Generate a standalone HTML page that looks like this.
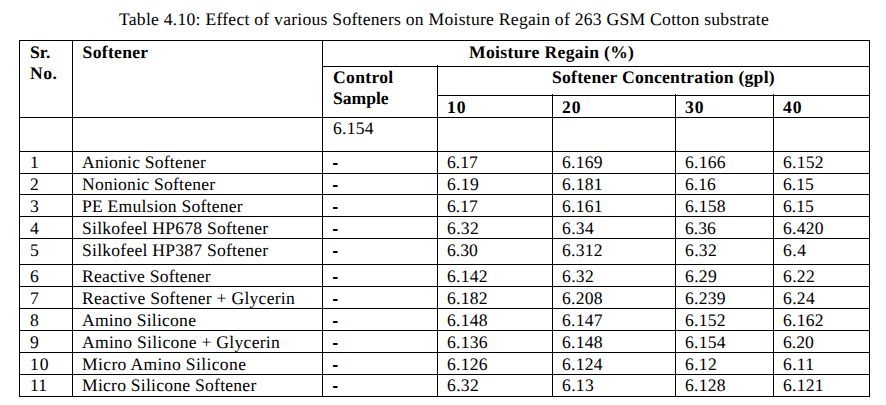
<!DOCTYPE html>
<html><head><meta charset="utf-8"><style>
html,body{margin:0;padding:0;background:#fff;}
#c{position:relative;width:886px;height:405px;overflow:hidden;background:#fff;}
.h{position:absolute;height:1px;background:#000;}
.v{position:absolute;width:1px;background:#000;}
.t{position:absolute;font-family:'Liberation Serif', serif;font-size:17.6px;line-height:20px;white-space:nowrap;color:#000;text-rendering:geometricPrecision;}
.b{font-weight:bold;}
.d{position:absolute;left:332px;width:6px;height:2px;background:linear-gradient(to right,#fff2c8 0,#fff2c8 1px,#500000 1px,#500000 2px,#000 2px,#000 5px,#3a78d0 5px,#3a78d0 6px);}
</style></head><body><div id="c">

<div class="h" style="top:40px;left:19px;width:851px"></div>
<div class="h" style="top:66px;left:322px;width:548px"></div>
<div class="h" style="top:95px;left:437px;width:433px"></div>
<div class="h" style="top:117px;left:19px;width:851px"></div>
<div class="h" style="top:151px;left:19px;width:851px"></div>
<div class="h" style="top:173px;left:19px;width:851px"></div>
<div class="h" style="top:194px;left:19px;width:851px"></div>
<div class="h" style="top:216px;left:19px;width:851px"></div>
<div class="h" style="top:238px;left:19px;width:851px"></div>
<div class="h" style="top:264px;left:19px;width:851px"></div>
<div class="h" style="top:286px;left:19px;width:851px"></div>
<div class="h" style="top:308px;left:19px;width:851px"></div>
<div class="h" style="top:330px;left:19px;width:851px"></div>
<div class="h" style="top:352px;left:19px;width:851px"></div>
<div class="h" style="top:374px;left:19px;width:851px"></div>
<div class="h" style="top:396px;left:19px;width:851px"></div>
<div class="v" style="left:19px;top:40px;height:357px"></div>
<div class="v" style="left:72px;top:40px;height:357px"></div>
<div class="v" style="left:322px;top:40px;height:357px"></div>
<div class="v" style="left:437px;top:65px;height:332px"></div>
<div class="v" style="left:552px;top:94px;height:303px"></div>
<div class="v" style="left:675px;top:94px;height:303px"></div>
<div class="v" style="left:773px;top:94px;height:303px"></div>
<div class="v" style="left:869px;top:40px;height:357px"></div>
<div class="t" style="left:119px;top:9px;letter-spacing:0.259px">Table 4.10: Effect of various Softeners on Moisture Regain of 263 GSM Cotton substrate</div>
<div class="t b" style="left:30px;top:42px">Sr.</div>
<div class="t b" style="left:30px;top:63px;letter-spacing:0.500px">No.</div>
<div class="t b" style="left:82.6px;top:42px;letter-spacing:0.286px">Softener</div>
<div class="t b" style="left:469px;top:42px;letter-spacing:0.333px">Moisture Regain (%)</div>
<div class="t b" style="left:333px;top:67px;letter-spacing:0.317px">Control</div>
<div class="t b" style="left:333px;top:88px;letter-spacing:-0.020px">Sample</div>
<div class="t b" style="left:552px;top:67px;letter-spacing:0.259px">Softener Concentration (gpl)</div>
<div class="t b" style="left:447px;top:97px;letter-spacing:1.000px">10</div>
<div class="t b" style="left:562px;top:97px;letter-spacing:1.000px">20</div>
<div class="t b" style="left:685px;top:97px;letter-spacing:1.000px">30</div>
<div class="t b" style="left:783px;top:97px;letter-spacing:1.000px">40</div>
<div class="t" style="left:333px;top:118px;letter-spacing:0.250px">6.154</div>
<div class="t" style="left:30px;top:152px">1</div>
<div class="t" style="left:82px;top:152px;letter-spacing:0.213px">Anionic Softener</div>
<div class="t" style="left:447px;top:152px">6.17</div>
<div class="t" style="left:562px;top:152px;letter-spacing:0.250px">6.169</div>
<div class="t" style="left:685px;top:152px;letter-spacing:0.250px">6.166</div>
<div class="t" style="left:783px;top:152px;letter-spacing:0.250px">6.152</div>
<div class="t" style="left:30px;top:174px">2</div>
<div class="t" style="left:82px;top:174px;letter-spacing:0.225px">Nonionic Softener</div>
<div class="t" style="left:447px;top:174px;letter-spacing:0.333px">6.19</div>
<div class="t" style="left:562px;top:174px;letter-spacing:0.250px">6.181</div>
<div class="t" style="left:685px;top:174px">6.16</div>
<div class="t" style="left:783px;top:174px">6.15</div>
<div class="t" style="left:30px;top:196px">3</div>
<div class="t" style="left:82px;top:196px;letter-spacing:0.226px">PE Emulsion Softener</div>
<div class="t" style="left:447px;top:196px">6.17</div>
<div class="t" style="left:562px;top:196px;letter-spacing:0.250px">6.161</div>
<div class="t" style="left:685px;top:196px;letter-spacing:0.250px">6.158</div>
<div class="t" style="left:783px;top:196px">6.15</div>
<div class="t" style="left:30px;top:218px">4</div>
<div class="t" style="left:82px;top:218px;letter-spacing:0.235px">Silkofeel HP678 Softener</div>
<div class="t" style="left:447px;top:218px;letter-spacing:0.333px">6.32</div>
<div class="t" style="left:562px;top:218px;letter-spacing:0.333px">6.34</div>
<div class="t" style="left:685px;top:218px">6.36</div>
<div class="t" style="left:783px;top:218px;letter-spacing:0.250px">6.420</div>
<div class="t" style="left:30px;top:240px">5</div>
<div class="t" style="left:82px;top:240px;letter-spacing:0.235px">Silkofeel HP387 Softener</div>
<div class="t" style="left:447px;top:240px">6.30</div>
<div class="t" style="left:562px;top:240px;letter-spacing:0.250px">6.312</div>
<div class="t" style="left:685px;top:240px;letter-spacing:0.333px">6.32</div>
<div class="t" style="left:783px;top:240px;letter-spacing:0.500px">6.4</div>
<div class="t" style="left:30px;top:266px">6</div>
<div class="t" style="left:82px;top:266px;letter-spacing:0.194px">Reactive Softener</div>
<div class="t" style="left:447px;top:266px;letter-spacing:0.250px">6.142</div>
<div class="t" style="left:562px;top:266px;letter-spacing:0.333px">6.32</div>
<div class="t" style="left:685px;top:266px;letter-spacing:0.333px">6.29</div>
<div class="t" style="left:783px;top:266px;letter-spacing:0.333px">6.22</div>
<div class="t" style="left:30px;top:288px">7</div>
<div class="t" style="left:82px;top:288px;letter-spacing:0.259px">Reactive Softener + Glycerin</div>
<div class="t" style="left:447px;top:288px;letter-spacing:0.250px">6.182</div>
<div class="t" style="left:562px;top:288px;letter-spacing:0.250px">6.208</div>
<div class="t" style="left:685px;top:288px;letter-spacing:0.250px">6.239</div>
<div class="t" style="left:783px;top:288px;letter-spacing:0.333px">6.24</div>
<div class="t" style="left:30px;top:310px">8</div>
<div class="t" style="left:82px;top:310px;letter-spacing:0.231px">Amino Silicone</div>
<div class="t" style="left:447px;top:310px;letter-spacing:0.250px">6.148</div>
<div class="t" style="left:562px;top:310px;letter-spacing:0.250px">6.147</div>
<div class="t" style="left:685px;top:310px;letter-spacing:0.250px">6.152</div>
<div class="t" style="left:783px;top:310px;letter-spacing:0.250px">6.162</div>
<div class="t" style="left:30px;top:332px">9</div>
<div class="t" style="left:82px;top:332px;letter-spacing:0.275px">Amino Silicone + Glycerin</div>
<div class="t" style="left:447px;top:332px;letter-spacing:0.250px">6.136</div>
<div class="t" style="left:562px;top:332px;letter-spacing:0.250px">6.148</div>
<div class="t" style="left:685px;top:332px;letter-spacing:0.250px">6.154</div>
<div class="t" style="left:783px;top:332px">6.20</div>
<div class="t" style="left:30px;top:354px;letter-spacing:1.000px">10</div>
<div class="t" style="left:82px;top:354px;letter-spacing:0.347px">Micro Amino Silicone</div>
<div class="t" style="left:447px;top:354px;letter-spacing:0.250px">6.126</div>
<div class="t" style="left:562px;top:354px;letter-spacing:0.250px">6.124</div>
<div class="t" style="left:685px;top:354px;letter-spacing:0.333px">6.12</div>
<div class="t" style="left:783px;top:354px;letter-spacing:0.333px">6.11</div>
<div class="t" style="left:30px;top:375px">11</div>
<div class="t" style="left:82px;top:375px;letter-spacing:0.236px">Micro Silicone Softener</div>
<div class="t" style="left:447px;top:375px;letter-spacing:0.333px">6.32</div>
<div class="t" style="left:562px;top:375px;letter-spacing:0.333px">6.13</div>
<div class="t" style="left:685px;top:375px;letter-spacing:0.250px">6.128</div>
<div class="t" style="left:783px;top:375px;letter-spacing:0.250px">6.121</div>
<div class="d" style="top:163px"></div>
<div class="d" style="top:185px"></div>
<div class="d" style="top:207px"></div>
<div class="d" style="top:229px"></div>
<div class="d" style="top:251px"></div>
<div class="d" style="top:277px"></div>
<div class="d" style="top:299px"></div>
<div class="d" style="top:321px"></div>
<div class="d" style="top:343px"></div>
<div class="d" style="top:365px"></div>
<div class="d" style="top:386px"></div>
</div></body></html>
